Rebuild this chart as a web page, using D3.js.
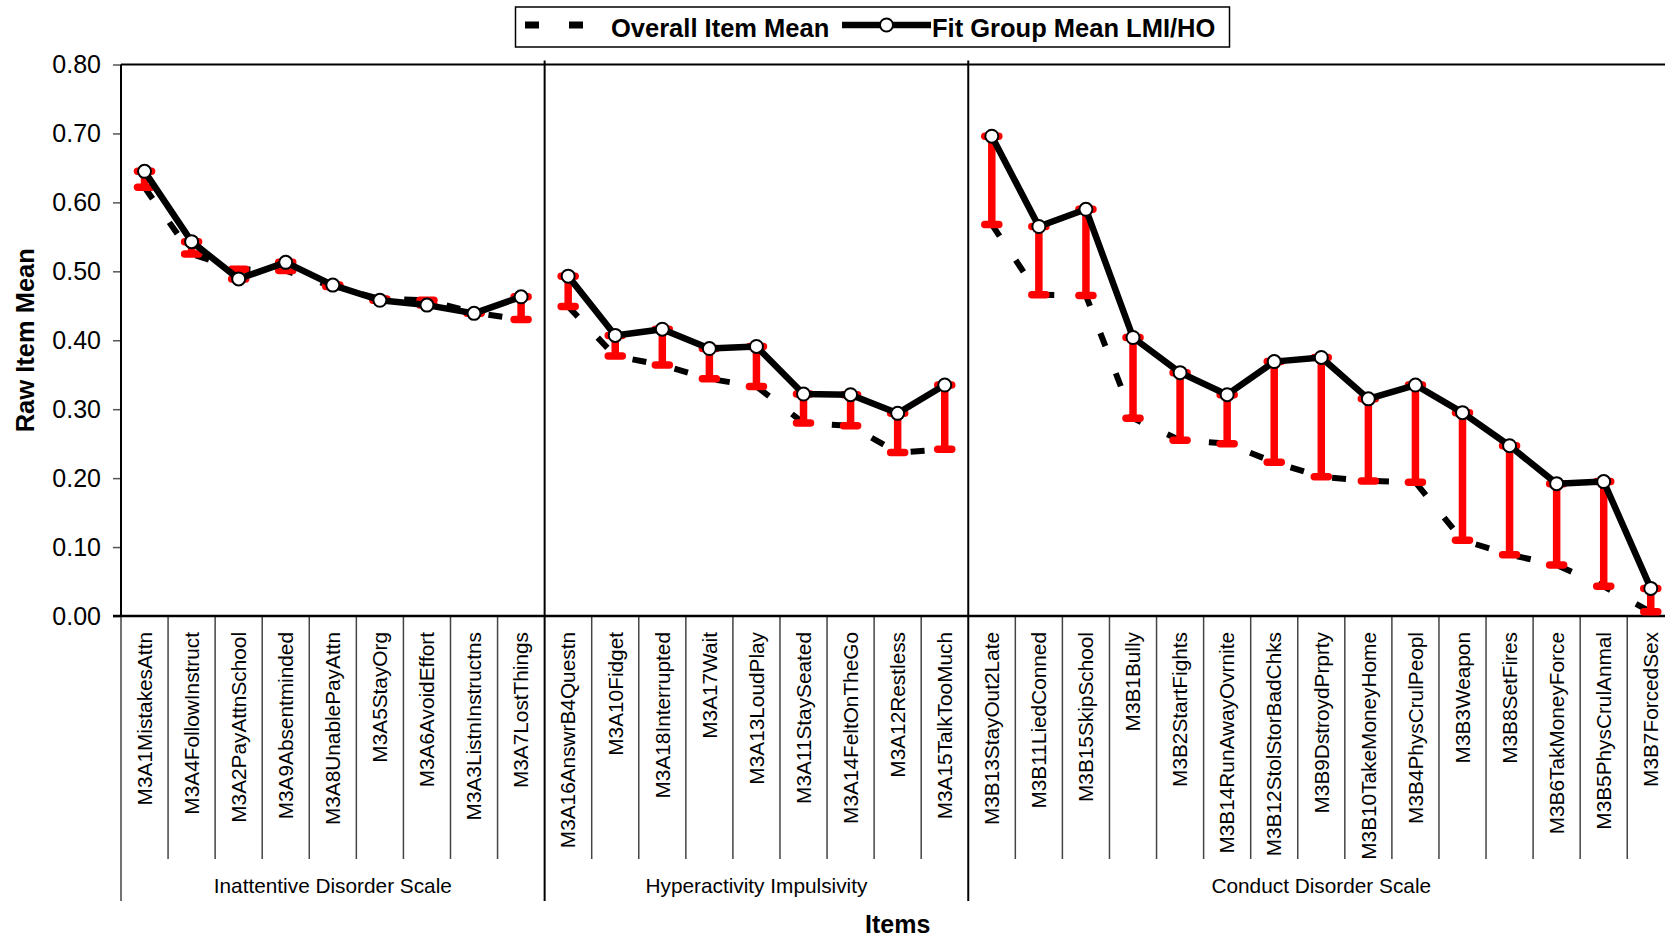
<!DOCTYPE html>
<html>
<head>
<meta charset="utf-8">
<script src="https://cdn.jsdelivr.net/npm/d3@7"></script>
<style>
  html, body { margin: 0; padding: 0; background: #fff; }
  svg { display: block; font-family: "Liberation Sans", Arial, sans-serif; }
</style>
</head>
<body>
<svg id="chart" width="1665" height="940"></svg>
<script>
// ---------------- DATA ----------------
const categories = [
  "M3A1MistakesAttn","M3A4FollowInstruct","M3A2PayAttnSchool","M3A9Absentminded","M3A8UnablePayAttn",
  "M3A5StayOrg","M3A6AvoidEffort","M3A3ListnInstructns","M3A7LostThings",
  "M3A16AnswrB4Questn","M3A10Fidget","M3A18Interrupted","M3A17Wait","M3A13LoudPlay",
  "M3A11StaySeated","M3A14FeltOnTheGo","M3A12Restless","M3A15TalkTooMuch",
  "M3B13StayOut2Late","M3B11LiedConned","M3B15SkipSchool","M3B1Bully","M3B2StartFights",
  "M3B14RunAwayOvrnite","M3B12StolStorBadChks","M3B9DstroydPrprty","M3B10TakeMoneyHome",
  "M3B4PhysCrulPeopl","M3B3Weapon","M3B8SetFires","M3B6TakMoneyForce","M3B5PhysCrulAnmal","M3B7ForcedSex"
];
const groupNames = ["Inattentive Disorder Scale", "Hyperactivity Impulsivity", "Conduct Disorder Scale"];
const groupSizes = [9, 9, 15];
const overallMean = [
  0.622, 0.525, 0.503, 0.501, 0.478, 0.460, 0.458, 0.440, 0.430,
  0.449, 0.377, 0.364, 0.344, 0.333, 0.280, 0.276, 0.237, 0.242,
  0.568, 0.466, 0.465, 0.287, 0.255, 0.250, 0.223, 0.202, 0.196, 0.194, 0.110, 0.089, 0.074, 0.043, 0.006
];
const fitMean = [
  0.645, 0.543, 0.489, 0.513, 0.480, 0.458, 0.451, 0.439, 0.463,
  0.493, 0.407, 0.416, 0.388, 0.391, 0.322, 0.321, 0.294, 0.335,
  0.696, 0.565, 0.590, 0.404, 0.353, 0.321, 0.369, 0.375, 0.315, 0.335, 0.295, 0.247, 0.192, 0.195, 0.040
];
const yTicks = [0.0, 0.1, 0.2, 0.3, 0.4, 0.5, 0.6, 0.7, 0.8];
const legendLabels = ["Overall Item Mean", "Fit Group Mean LMI/HO"];
const xTitle = "Items";
const yTitle = "Raw Item Mean";

// ---------------- LAYOUT ----------------
const svg = d3.select("#chart");
const plotLeft = 121, plotTop = 64.5, plotBottom = 616;
const step = 47.07;
const plotRight = plotLeft + step * categories.length;

const x = d3.scaleBand().domain(categories).range([plotLeft, plotRight]).padding(0);
const y = d3.scaleLinear().domain([0, 0.8]).range([plotBottom, plotTop]);
const cx = c => x(c) + x.bandwidth() / 2;

const rows = categories.map((c, i) => ({ c, i, overall: overallMean[i], fit: fitMean[i] }));
let start = 0;
const groups = groupSizes.map((n, g) => {
  const items = rows.slice(start, start + n);
  const grp = { name: groupNames[g], items, first: categories[start], last: categories[start + n - 1] };
  start += n;
  return grp;
});

// ---------------- AXES / FRAME ----------------
const yAxis = d3.axisLeft(y).tickValues(yTicks).tickFormat(d3.format(".2f")).tickSize(8).tickPadding(12);
const yg = svg.append("g").attr("transform", `translate(${plotLeft},0)`).call(yAxis);
yg.select(".domain").remove();
yg.selectAll(".tick line").attr("stroke", "#555").attr("stroke-width", 1.5);
yg.selectAll(".tick text").attr("font-size", 25).attr("fill", "#000")
  .attr("font-family", "Liberation Sans, Arial, sans-serif");

svg.append("line").attr("x1", plotLeft).attr("x2", plotLeft).attr("y1", plotTop).attr("y2", plotBottom)
  .attr("stroke", "#000").attr("stroke-width", 2);
svg.append("line").attr("x1", plotLeft).attr("x2", plotRight).attr("y1", plotTop).attr("y2", plotTop)
  .attr("stroke", "#000").attr("stroke-width", 2);

const sepG = svg.append("g");
categories.forEach(c => {
  const isGroupStart = groups.some(g => g.first === c);
  if (!isGroupStart) {
    sepG.append("line").attr("x1", x(c)).attr("x2", x(c)).attr("y1", plotBottom).attr("y2", 859)
      .attr("stroke", "#444").attr("stroke-width", 1.5);
  }
});
groups.forEach((g, gi) => {
  const gx = x(g.first);
  svg.append("line").attr("x1", gx).attr("x2", gx)
    .attr("y1", gi === 0 ? plotBottom : plotTop - 4).attr("y2", 901)
    .attr("stroke", gi === 0 ? "#444" : "#000").attr("stroke-width", gi === 0 ? 1.5 : 2);
});
svg.append("line").attr("x1", plotRight).attr("x2", plotRight).attr("y1", plotTop - 4).attr("y2", 901)
  .attr("stroke", "#000").attr("stroke-width", 2);

svg.append("line").attr("x1", plotLeft - 8).attr("x2", plotRight).attr("y1", plotBottom).attr("y2", plotBottom)
  .attr("stroke", "#000").attr("stroke-width", 2.5);

svg.append("g").selectAll("text").data(categories).join("text")
  .attr("transform", c => `translate(${cx(c)},632) rotate(-90)`)
  .attr("text-anchor", "end")
  .attr("dy", "0.35em")
  .attr("font-size", 20.8)
  .attr("fill", "#000")
  .text(c => c);

svg.append("g").selectAll("text").data(groups).join("text")
  .attr("x", g => (x(g.first) + x(g.last) + x.bandwidth()) / 2)
  .attr("y", 893)
  .attr("text-anchor", "middle")
  .attr("font-size", 20.8)
  .attr("fill", "#000")
  .text(g => g.name);

svg.append("text").attr("x", (plotLeft + plotRight) / 2).attr("y", 933)
  .attr("text-anchor", "middle").attr("font-size", 25).attr("font-weight", "bold").text(xTitle);
svg.append("text").attr("transform", `translate(34,${(plotTop + plotBottom) / 2}) rotate(-90)`)
  .attr("text-anchor", "middle").attr("font-size", 25.5).attr("font-weight", "bold").text(yTitle);

// ---------------- MARKS ----------------
const lineOverall = d3.line().x(d => cx(d.c)).y(d => y(d.overall));
const lineFit = d3.line().x(d => cx(d.c)).y(d => y(d.fit));

const marks = svg.append("g");
marks.selectAll("path.overall").data(groups).join("path")
  .attr("class", "overall")
  .attr("d", g => lineOverall(g.items))
  .attr("fill", "none").attr("stroke", "#000").attr("stroke-width", 6)
  .attr("stroke-dasharray", "14,29");

const bars = marks.append("g");
rows.forEach(d => {
  const px = cx(d.c);
  bars.append("line").attr("x1", px).attr("x2", px).attr("y1", y(d.fit)).attr("y2", y(d.overall))
    .attr("stroke", "#ff0000").attr("stroke-width", 7.5);
  [d.fit, d.overall].forEach(v => {
    bars.append("line").attr("x1", px - 7).attr("x2", px + 7).attr("y1", y(v)).attr("y2", y(v))
      .attr("stroke", "#ff0000").attr("stroke-width", 7.5).attr("stroke-linecap", "round");
  });
});

marks.selectAll("path.fit").data(groups).join("path")
  .attr("class", "fit")
  .attr("d", g => lineFit(g.items))
  .attr("fill", "none").attr("stroke", "#000").attr("stroke-width", 6.5)
  .attr("stroke-linejoin", "round");

marks.append("g").selectAll("circle").data(rows).join("circle")
  .attr("cx", d => cx(d.c)).attr("cy", d => y(d.fit)).attr("r", 6.5)
  .attr("fill", "#fff").attr("stroke", "#000").attr("stroke-width", 2);

// ---------------- LEGEND ----------------
const lg = svg.append("g");
lg.append("rect").attr("x", 515.5).attr("y", 7).attr("width", 714).attr("height", 40)
  .attr("fill", "#fff").attr("stroke", "#000").attr("stroke-width", 1.5);
lg.append("line").attr("x1", 525).attr("x2", 585).attr("y1", 25).attr("y2", 25)
  .attr("stroke", "#000").attr("stroke-width", 7).attr("stroke-dasharray", "14,30");
lg.append("text").attr("x", 611).attr("y", 36.5).attr("font-size", 25.5).attr("font-weight", "bold")
  .text(legendLabels[0]);
lg.append("line").attr("x1", 842).attr("x2", 931).attr("y1", 25).attr("y2", 25)
  .attr("stroke", "#000").attr("stroke-width", 6.5);
lg.append("circle").attr("cx", 886.5).attr("cy", 25).attr("r", 6.5)
  .attr("fill", "#fff").attr("stroke", "#000").attr("stroke-width", 2);
lg.append("text").attr("x", 932).attr("y", 36.5).attr("font-size", 25.5).attr("font-weight", "bold")
  .text(legendLabels[1]);
</script>
</body>
</html>
